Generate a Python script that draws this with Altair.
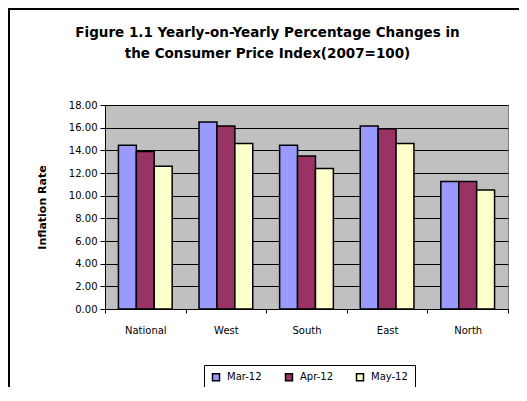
import altair as alt
import pandas as pd

regions = ["National", "West", "South", "East", "North"]
series = ["Mar-12", "Apr-12", "May-12"]
mar_12 = [14.45, 16.5, 14.45, 16.15, 11.25]
apr_12 = [13.9, 16.15, 13.5, 15.9, 11.25]
may_12 = [12.6, 14.6, 12.4, 14.6, 10.5]
colors = ["#9999FF", "#993366", "#FFFFCC"]
y_ticks = [0, 2, 4, 6, 8, 10, 12, 14, 16, 18]
title_lines = ["Figure 1.1 Yearly-on-Yearly Percentage Changes in",
               "the Consumer Price Index(2007=100)"]

rows = []
for name, vals in zip(series, [mar_12, apr_12, may_12]):
    for r, v in zip(regions, vals):
        rows.append({"region": r, "series": name, "value": v})
df = pd.DataFrame(rows)

FONT = "DejaVu Sans"

bars = alt.Chart(df).mark_bar(stroke="black", strokeWidth=1.5).encode(
    x=alt.X("region:N", sort=regions,
            scale=alt.Scale(paddingInner=0, paddingOuter=0),
            axis=alt.Axis(title=None, tickBand="extent", tickSize=4, tickColor="black",
                          domainColor="black", labelAngle=0, labelPadding=12,
                          labelFontSize=10, labelFont=FONT, labelColor="black", grid=False)),
    xOffset=alt.XOffset("series:N", sort=series,
                        scale=alt.Scale(paddingInner=0, paddingOuter=0.75)),
    y=alt.Y("value:Q", scale=alt.Scale(domain=[0, 18], nice=False),
            axis=alt.Axis(title="Inflation Rate", values=y_ticks, format=".2f",
                          grid=True, gridColor="black", gridOpacity=1,
                          tickSize=5, tickColor="black", domainColor="black",
                          labelPadding=3, labelFontSize=10, labelFont=FONT, labelColor="black",
                          titleFont=FONT, titleFontSize=11, titleFontWeight="bold",
                          titleAngle=270, titleX=-63, titleY=102,
                          titleAlign="center", titleBaseline="middle", titleColor="black")),
    color=alt.Color("series:N", sort=series,
                    scale=alt.Scale(domain=series, range=colors),
                    legend=alt.Legend(title=None, orient="none", direction="horizontal",
                                      legendX=99, legendY=260, symbolType="square",
                                      symbolSize=49, symbolStrokeColor="black",
                                      symbolStrokeWidth=1.5, labelFont=FONT, labelFontSize=10,
                                      labelColor="black", columnPadding=20, labelOffset=6,
                                      padding=7, strokeColor="black", fillColor="white")),
)

title1 = alt.Chart(alt.Data(values=[{}])).mark_text(
    font=FONT, fontSize=13.5, fontWeight="bold", color="black", align="center", baseline="middle"
).encode(x=alt.value(162.5), y=alt.value(-72), text=alt.value(title_lines[0]))
title2 = alt.Chart(alt.Data(values=[{}])).mark_text(
    font=FONT, fontSize=13.5, fontWeight="bold", color="black", align="center", baseline="middle"
).encode(x=alt.value(162.5), y=alt.value(-51), text=alt.value(title_lines[1]))

border_top = alt.Chart(alt.Data(values=[{}])).mark_rule(color="black", strokeWidth=2).encode(
    x=alt.value(-97), x2=alt.value(420), y=alt.value(-96)
)
border_left = alt.Chart(alt.Data(values=[{}])).mark_rule(color="black", strokeWidth=2).encode(
    x=alt.value(-96), y=alt.value(-97), y2=alt.value(290)
)

chart = alt.layer(bars, title1, title2, border_top, border_left).properties(
    width=403, height=204,
    padding={"left": 97, "top": 97, "right": 11, "bottom": 78},
    autosize=alt.AutoSizeParams(type="none"),
    background="white",
).configure_view(fill="#C0C0C0", stroke="#808080", strokeWidth=1)

chart.save("out.html", embed_options={"renderer": "svg", "actions": False})
